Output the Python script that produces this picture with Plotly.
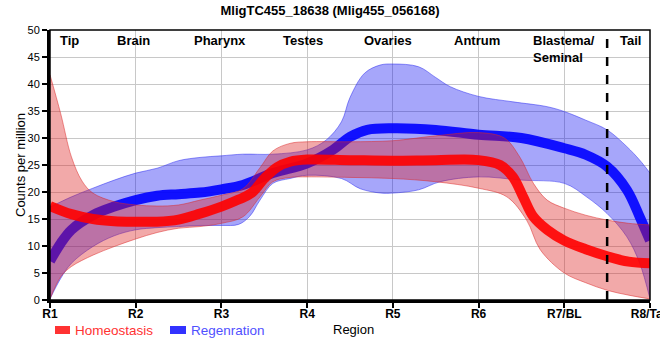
import plotly.graph_objects as go

# ---------------- data ----------------
tick_vals = [1, 2, 3, 4, 5, 6, 7, 8]
tick_labels = ["R1", "R2", "R3", "R4", "R5", "R6", "R7/BL", "R8/Tail"]

region_names = ["Tip", "Brain", "Pharynx", "Testes", "Ovaries", "Antrum", "Blastema/<br>Seminal", "Tail"]
region_x = [1.23, 1.97, 2.98, 3.95, 4.94, 5.98, 7.0, 7.77]

divider_x = 7.5

# Homeostasis mean
homeo_x = [1, 1.25, 1.5, 1.75, 2, 2.25, 2.5, 2.75, 3, 3.2, 3.35, 3.5, 3.65, 3.8, 4, 4.5, 5, 5.5, 6,
           6.25, 6.4, 6.52, 6.64, 6.8, 7, 7.25, 7.5, 7.75, 8]
homeo_y = [17.4, 15.9, 15.0, 14.6, 14.5, 14.5, 14.9, 16.0, 17.3, 18.6, 19.8, 22.5, 24.6, 25.6, 26.0, 25.9, 25.8, 25.9, 25.9,
           25.0, 22.8, 19.1, 15.4, 13.0, 11.0, 9.4, 8.1, 7.1, 6.8]

# Homeostasis band
homeo_up_x = [1, 1.125, 1.25, 1.375, 1.5, 1.75, 2, 2.25, 2.5, 2.75, 3, 3.25, 3.45, 3.6, 3.8, 4, 4.5, 5, 5.5, 6,
              6.3, 6.48, 6.64, 6.8, 7, 7.25, 7.5, 7.75, 8]
homeo_up_y = [41.7, 34.5, 26.5, 22.0, 19.8, 18.2, 17.6, 17.4, 17.6, 18.5, 19.4, 20.6, 24.5, 27.6, 29.0, 29.3, 29.3, 29.5, 30.4, 31.0,
              30.0, 26.5, 21.6, 18.5, 17.0, 15.7, 14.8, 14.2, 13.9]
homeo_lo_x = [1, 1.125, 1.25, 1.5, 1.75, 2, 2.25, 2.5, 2.75, 3, 3.25, 3.45, 3.6, 3.8, 4, 4.5, 5, 5.5, 6,
              6.33, 6.56, 6.72, 7, 7.25, 7.5, 7.75, 8]
homeo_lo_y = [0.2, 4.3, 6.2, 8.3, 9.9, 11.3, 12.5, 13.3, 13.6, 14.2, 15.4, 19.1, 21.9, 22.7, 22.8, 22.7, 22.5, 21.9, 20.7,
              19.1, 14.8, 9.3, 5.0, 3.2, 1.8, 0.9, 0.2]

# Regeneration mean
regen_x = [1, 1.125, 1.25, 1.5, 1.75, 2, 2.25, 2.5, 2.75, 3, 3.25, 3.6, 4, 4.3, 4.5, 4.7, 5, 5.5, 6, 6.5,
           7, 7.25, 7.5, 7.73, 7.88, 8]
regen_y = [7.2, 10.5, 13.0, 15.7, 17.3, 18.5, 19.3, 19.6, 19.9, 20.5, 21.3, 23.5, 25.3, 27.8, 30.2, 31.5, 31.8, 31.5, 30.6, 30.0,
           28.1, 26.9, 24.7, 20.4, 15.4, 11.0]

# Regeneration band
regen_up_x = [1, 1.25, 1.5, 1.75, 2, 2.25, 2.5, 2.75, 3, 3.25, 3.6, 4, 4.22, 4.4, 4.5, 4.67, 4.85, 5, 5.3, 5.5,
              5.67, 6, 6.4, 6.8, 7, 7.25, 7.5, 7.73, 7.88, 8]
regen_up_y = [17.2, 19.1, 20.7, 22.2, 23.5, 24.4, 25.8, 26.4, 26.7, 27.0, 27.0, 27.8, 29.6, 33.0, 37.5, 42.0, 43.5, 43.7, 43.2, 41.2,
              39.5, 37.7, 36.7, 35.8, 34.9, 33.3, 31.5, 28.4, 25.9, 23.5]
regen_lo_x = [1, 1.125, 1.25, 1.5, 1.75, 2, 2.25, 2.5, 2.75, 3, 3.2, 3.33, 3.45, 3.6, 3.8, 4, 4.4, 4.62, 4.86, 5,
              5.3, 5.55, 6, 6.5, 7, 7.26, 7.5, 7.73, 7.88, 8]
regen_lo_y = [0.2, 4.0, 6.8, 9.9, 11.9, 13.0, 13.4, 13.6, 13.8, 13.8, 14.0, 15.5, 18.5, 21.6, 22.5, 23.1, 22.5, 20.6, 19.8, 19.8,
              20.4, 21.9, 22.8, 22.2, 21.6, 19.1, 16.0, 11.7, 6.8, 0.2]

series_names = ["Homeostasis", "Regenration"]

# ---------------- styles ----------------
RED_LINE = "rgba(255,0,0,0.9)"
BLUE_LINE = "rgba(0,0,255,0.9)"
RED_FILL = "rgba(220,30,30,0.38)"
BLUE_FILL = "rgba(0,0,240,0.35)"
RED_EDGE = "rgba(220,40,40,0.5)"
BLUE_EDGE = "rgba(40,40,240,0.5)"
FONT = "Liberation Sans, Arial, sans-serif"

fig = go.Figure()

# Regeneration band
fig.add_trace(go.Scatter(x=regen_lo_x, y=regen_lo_y, mode="lines", line=dict(color=BLUE_EDGE, width=1, shape="spline"),
                         showlegend=False, hoverinfo="skip"))
fig.add_trace(go.Scatter(x=regen_up_x, y=regen_up_y, mode="lines", line=dict(color=BLUE_EDGE, width=1, shape="spline"),
                         fill="tonexty", fillcolor=BLUE_FILL, showlegend=False, hoverinfo="skip"))
# Regeneration mean
fig.add_trace(go.Scatter(x=regen_x, y=regen_y, mode="lines", line=dict(color=BLUE_LINE, width=10, shape="spline"),
                         name=series_names[1], showlegend=False))
# Homeostasis band
fig.add_trace(go.Scatter(x=homeo_lo_x, y=homeo_lo_y, mode="lines", line=dict(color=RED_EDGE, width=1, shape="spline"),
                         showlegend=False, hoverinfo="skip"))
fig.add_trace(go.Scatter(x=homeo_up_x, y=homeo_up_y, mode="lines", line=dict(color=RED_EDGE, width=1, shape="spline"),
                         fill="tonexty", fillcolor=RED_FILL, showlegend=False, hoverinfo="skip"))
# Homeostasis mean
fig.add_trace(go.Scatter(x=homeo_x, y=homeo_y, mode="lines", line=dict(color=RED_LINE, width=10, shape="spline"),
                         name=series_names[0], showlegend=False))

# divider
fig.add_shape(type="line", x0=divider_x, x1=divider_x, y0=0, y1=50, xref="x", yref="y",
              line=dict(color="black", width=2.5, dash="dash"))
# top / right border
fig.add_shape(type="rect", x0=0, x1=1, y0=0, y1=1, xref="paper", yref="paper",
              line=dict(color="black", width=1.5), layer="above")

# region labels
for name, xv in zip(region_names, region_x):
    fig.add_annotation(x=xv, y=50, xref="x", yref="y", text="<b>%s</b>" % name, showarrow=False,
                       xanchor="center", yanchor="top", align="left", yshift=-1,
                       font=dict(family=FONT, size=13, color="black"))

# axis titles
fig.add_annotation(x=-0.05, y=0.5, xref="paper", yref="paper", text="Counts per million", textangle=-90,
                   xanchor="center", yanchor="middle",
                   showarrow=False, font=dict(family=FONT, size=13, color="black"))
fig.add_annotation(x=0.468, y=-0.111, xref="paper", yref="paper", text="Region", showarrow=False,
                   xanchor="left", yanchor="middle", font=dict(family=FONT, size=13, color="black"))

# manual legend
W, H = 600.0, 270.0
def px(xp):
    return (xp - 50) / W
def py(yp):
    return (300 - yp) / H

legend_items = [(series_names[0], "rgb(255,50,50)", "rgb(255,50,50)", 55, 70, 73),
                (series_names[1], "rgb(50,50,255)", "rgb(80,80,255)", 170, 186, 189)]
for name, rc, tc, x0, x1, tx in legend_items:
    fig.add_shape(type="rect", xref="paper", yref="paper", x0=px(x0), x1=px(x1), y0=py(334), y1=py(326),
                  fillcolor=rc, line=dict(width=0))
    fig.add_annotation(x=px(tx), y=py(330), xref="paper", yref="paper", text=name, showarrow=False,
                       xanchor="left", yanchor="middle", font=dict(family=FONT, size=13.5, color=tc))

fig.update_layout(
    width=660, height=360,
    margin=dict(l=50, r=10, t=30, b=60, autoexpand=False),
    paper_bgcolor="white", plot_bgcolor="white",
    showlegend=False,
    title=dict(text="<b>MligTC455_18638 (Mlig455_056168)</b>", x=0.5, xanchor="center",
               y=1 - 10 / 360, yanchor="middle", font=dict(family=FONT, size=13, color="black")),
    font=dict(family=FONT, color="black"),
)
fig.update_xaxes(range=[1, 8], tickmode="array", tickvals=tick_vals,
                 ticktext=["<b>%s</b>" % t for t in tick_labels], automargin=False,
                 ticklabeloverflow="allow",
                 showgrid=True, gridcolor="#c8c8c8", gridwidth=1,
                 showline=True, linecolor="black", linewidth=3,
                 ticks="outside", ticklen=5, tickwidth=2, tickcolor="black", ticklabelstandoff=-4,
                 tickfont=dict(family=FONT, size=12, color="black"), zeroline=False)
fig.update_yaxes(range=[0, 50], tickmode="array", tickvals=list(range(0, 51, 5)), automargin=False,
                 showgrid=True, gridcolor="#c8c8c8", gridwidth=1,
                 showline=True, linecolor="black", linewidth=3,
                 ticks="outside", ticklen=5, tickwidth=1.5, tickcolor="black",
                 tickfont=dict(family=FONT, size=11, color="black"), zeroline=False)

fig.write_html("out.html", config={"displayModeBar": False},
               post_script="document.body.style.margin='0px';")
